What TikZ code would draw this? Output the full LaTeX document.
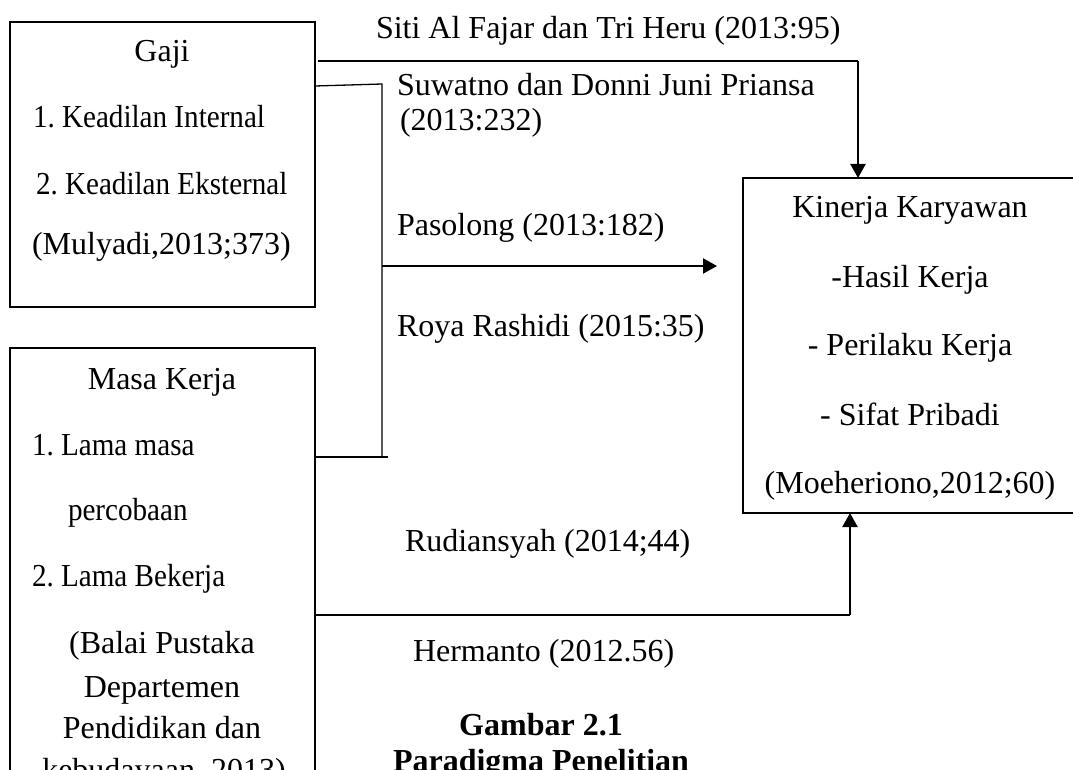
\documentclass[tikz,border=0pt]{standalone}
\usepackage{fontspec}
\setmainfont{Liberation Serif}
\newfontfamily\condserif[FakeStretch=0.91]{Liberation Serif}
\usetikzlibrary{arrows.meta}
\frenchspacing
\begin{document}
\begin{tikzpicture}[x=1pt,y=-1pt,
  box/.style={draw,line width=2.8pt,inner sep=0pt,outer sep=0pt},
  txt/.style={inner sep=0pt,outer sep=0pt,font=\fontsize{32}{37}\selectfont},
  lt/.style={txt,anchor=base west},
  ct/.style={txt,anchor=base},
  item/.style={txt,anchor=base west,font=\condserif\fontsize{32}{37}\selectfont},
  captxt/.style={txt,anchor=base,font=\fontsize{32}{37}\selectfont\bfseries},
  thinline/.style={line width=1.3pt},
  arr/.style={line width=2.2pt,-{Triangle[length=14pt,width=15pt]}}]
\useasboundingbox (0,0) rectangle (1073,770);
\clip (0,0) rectangle (1073,770);
% boxes
\node[box,minimum width=305pt,minimum height=285pt] (gaji) at (162.5,164.5) {};
\node[box,minimum width=305pt,minimum height=552pt] (masa) at (162.5,624) {};
\node[box,minimum width=360pt,minimum height=335pt] (kin) at (923,345.5) {};
% Gaji texts
\node[ct] (g0) at (162,62) {Gaji};
\node[item] (g1) at (33,128) {1. Keadilan Internal};
\node[item] (g2) at (36,194) {2. Keadilan Eksternal};
\node[lt] (g3) at (32,254) {(Mulyadi,2013;373)};
% Masa Kerja texts
\node[ct] (m0) at (162,389) {Masa Kerja};
\node[item] (m1) at (32,455) {1. Lama masa};
\node[item] (m2) at (68,520) {percobaan};
\node[item] (m3) at (32,586) {2. Lama Bekerja};
\node[ct] (m4) at (162,653) {(Balai Pustaka};
\node[ct] (m5) at (162,697) {Departemen};
\node[ct] (m6) at (162,738) {Pendidikan dan};
\node[ct] (m7) at (164,780) {kebudayaan, 2013)};
% Kinerja texts
\node[ct] (k0) at (910,218) {Kinerja Karyawan};
\node[ct] (k1) at (910,287) {-Hasil Kerja};
\node[ct] (k2) at (910,355) {- Perilaku Kerja};
\node[ct] (k3) at (910,425) {- Sifat Pribadi};
\node[ct] (k4) at (910,493) {(Moeheriono,2012;60)};
% connector labels
\node[lt] (l1) at (376,39) {Siti Al Fajar dan Tri Heru (2013:95)};
\node[lt] (l2) at (397,96) {Suwatno dan Donni Juni Priansa};
\node[lt] (l3) at (400,131) {(2013:232)};
\node[lt] (l4) at (397,236) {Pasolong (2013:182)};
\node[lt] (l5) at (397,336) {Roya Rashidi (2015:35)};
\node[lt] (l6) at (405,551) {Rudiansyah (2014;44)};
\node[lt] (l7) at (413,661) {Hermanto (2012.56)};
% caption
\node[captxt] (c1) at (541,735) {Gambar 2.1};
\node[captxt] (c2) at (541,771) {Paradigma Penelitian};
% junction coordinates
\coordinate (ya) at (0,61);
\coordinate (ja) at (858,61);
\coordinate (yb) at (0,86);
\coordinate (jb) at (382,84);
\coordinate (jc) at (382,457);
\coordinate (jce) at (388,457);
\coordinate (jd) at (382,266);
\coordinate (jde) at (717,266);
\coordinate (je) at (850,615);
% connectors
\draw[thinline] ([xshift=3pt]gaji.east |- ya) -- (ja);
\draw[arr] (ja) -- (ja |- kin.north);
\draw[thinline] (gaji.east |- yb) -- (jb) -- (jc);
\draw[thinline] (masa.east |- jc) -- (jce);
\draw[arr] (jd) -- (jde);
\draw[thinline,line width=1.5pt] (masa.east |- je) -- (je);
\draw[arr] (je) -- (je |- kin.south);
\end{tikzpicture}
\end{document}
